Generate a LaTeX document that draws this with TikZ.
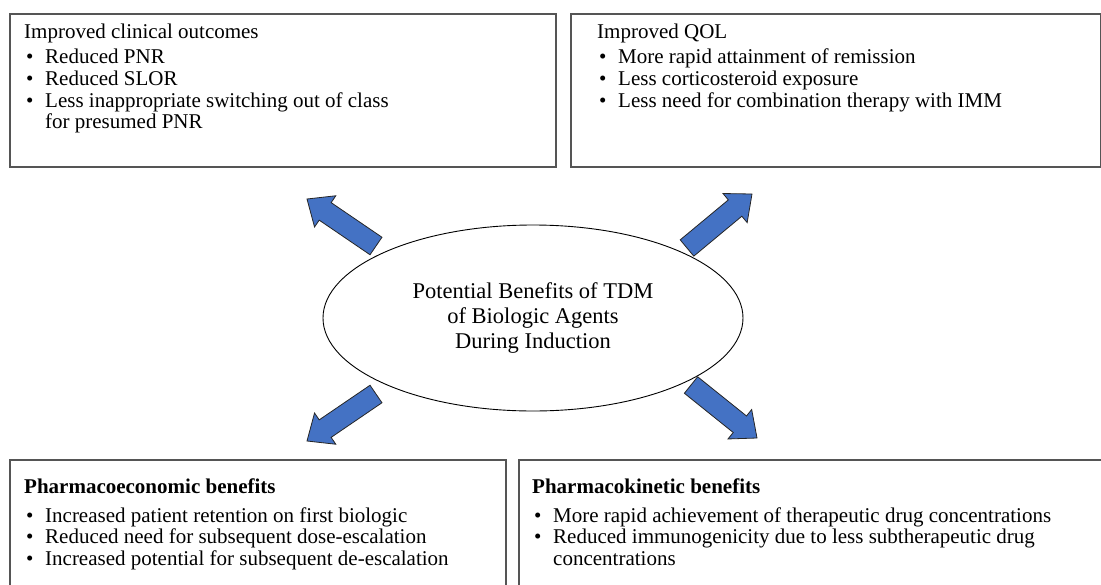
\documentclass[tikz,border=0pt]{standalone}
\usepackage{fontspec}
\setmainfont{Liberation Serif}
\usetikzlibrary{positioning,shapes.geometric,calc}

\definecolor{arrowblue}{RGB}{68,114,196}
\definecolor{framegray}{RGB}{85,85,85}

\newcommand{\itm}{\makebox[21pt][l]{\hspace{2pt}\textbullet}}
\newcommand{\blockarrow}[2]{%
    \coordinate (hb) at ($(#2)!22pt!(#1)$);
    \draw[fatarrow] ($(#1)!10.6pt!90:(#2)$) -- ($(hb)!10.6pt!90:(#2)$) -- ($(hb)!18.9pt!90:(#2)$)
        -- (#2) -- ($(hb)!18.9pt!-90:(#2)$) -- ($(hb)!10.6pt!-90:(#2)$) -- ($(#1)!10.6pt!-90:(#2)$) -- cycle;
}

\begin{document}
\begin{tikzpicture}[x=1pt, y=-1pt]
    \tikzset{
        panel/.style = {rectangle, draw=framegray, line width=1.6pt, anchor=north west, inner sep=0pt},
        listtext/.style = {inner sep=0pt, align=left, anchor=north west, font=\fontsize{21}{21.6}\selectfont},
        center/.style = {ellipse, draw=black, line width=0.9pt, minimum width=420pt, minimum height=186pt,
                         align=center, font=\fontsize{22.5}{25}\selectfont},
        fatarrow/.style = {fill=arrowblue, draw=black!85, line width=0.8pt, line join=miter}
    }
    \clip (0,0) rectangle (1101,584);

    \node (tdm) [center] at (533,318) {Potential Benefits of TDM\\of Biologic Agents\\During Induction};

    % the four panels
    \node (clin) [panel, minimum width=546pt, minimum height=153pt] at (9,13) {};
    \node (qol) [panel, minimum width=530pt, minimum height=153pt] at (570,13) {};
    \node (econ) [panel, minimum width=496pt, minimum height=141pt] at (9,459) {};
    \node (kin) [panel, minimum width=612pt, minimum height=141pt] at (518,459) {};

    \node (clintext) [listtext] at ([xshift=15pt, yshift=-10.5pt]clin.north west)
        {Improved clinical outcomes\\[4pt]
         \itm Reduced PNR\\
         \itm Reduced SLOR\\
         \itm Less inappropriate switching out of class\\
         \hspace*{21pt}for presumed PNR};
    \node (qoltext) [listtext] at ([xshift=27pt, yshift=-10.5pt]qol.north west)
        {Improved QOL\\[4pt]
         \itm More rapid attainment of remission\\
         \itm Less corticosteroid exposure\\
         \itm Less need for combination therapy with IMM};
    \node (econtext) [listtext] at ([xshift=15pt, yshift=-19.5pt]econ.north west)
        {\textbf{Pharmacoeconomic benefits}\\[7pt]
         \itm Increased patient retention on first biologic\\
         \itm Reduced need for subsequent dose-escalation\\
         \itm Increased potential for subsequent de-escalation};
    \node (kintext) [listtext] at ([xshift=14pt, yshift=-19.5pt]kin.north west)
        {\textbf{Pharmacokinetic benefits}\\[7pt]
         \itm More rapid achievement of therapeutic drug concentrations\\
         \itm Reduced immunogenicity due to less subtherapeutic drug\\
         \hspace*{21pt}concentrations};

    % block arrows out of the ellipse
    \coordinate (tlTail) at (376,246);
    \coordinate (tlTip) at (307,199);
    \coordinate (trTail) at (687,248);
    \coordinate (trTip) at (752,194);
    \coordinate (blTail) at (376,394);
    \coordinate (blTip) at (307,441);
    \coordinate (brTail) at (691,385);
    \coordinate (brTip) at (757,438);
    \blockarrow{tlTail}{tlTip}
    \blockarrow{trTail}{trTip}
    \blockarrow{blTail}{blTip}
    \blockarrow{brTail}{brTip}
\end{tikzpicture}
\end{document}
